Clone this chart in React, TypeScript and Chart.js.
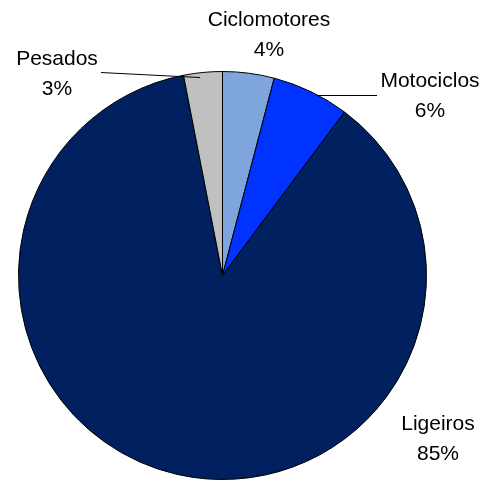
import React, { useEffect, useRef } from "react";
import { Chart, registerables } from "chart.js";

Chart.register(...registerables);

const categories = ["Ciclomotores", "Motociclos", "Ligeiros", "Pesados"];
const values = [4, 6, 85, 3];
const percentLabels = ["4%", "6%", "85%", "3%"];
const sliceColors = ["#7FA6DC", "#0033FF", "#002060", "#C0C0C0"];

// label placement relative to each slice's outer mid-point (layout only)
const labelOffsets: [number, number][] = [
  [20.4, -46.7],
  [119, -5.2],
  [260.9, -43.9],
  [-145.9, -7.9],
];
// leader lines relative to slice outer mid-point (null = none)
const leaderLines: ([number, number, number, number] | null)[] = [
  null,
  [6, 3.8, 66, 3.8],
  null,
  [-101.9, 0.1, -2.9, 5.1],
];

const labelPlugin = {
  id: "outerLabels",
  afterDraw(chart: any) {
    const ctx = chart.ctx;
    const meta = chart.getDatasetMeta(0);
    ctx.save();
    ctx.font = '21px "Liberation Sans", Arial, sans-serif';
    ctx.fillStyle = "#000";
    ctx.textAlign = "center";
    ctx.textBaseline = "alphabetic";
    meta.data.forEach((arc: any, i: number) => {
      const { x, y, startAngle, endAngle, outerRadius } = arc.getProps(
        ["x", "y", "startAngle", "endAngle", "outerRadius"],
        true
      );
      const mid = (startAngle + endAngle) / 2;
      const ax = x + Math.cos(mid) * outerRadius;
      const ay = y + Math.sin(mid) * outerRadius;
      const [ox, oy] = labelOffsets[i];
      ctx.fillText(categories[i], ax + ox, ay + oy);
      ctx.fillText(percentLabels[i], ax + ox, ay + oy + 30);
      const l = leaderLines[i];
      if (l) {
        ctx.beginPath();
        ctx.strokeStyle = "#000";
        ctx.lineWidth = 1;
        ctx.moveTo(ax + l[0], ay + l[1]);
        ctx.lineTo(ax + l[2], ay + l[3]);
        ctx.stroke();
      }
    });
    ctx.restore();
  },
};

export default function App() {
  const ref = useRef<HTMLCanvasElement | null>(null);
  useEffect(() => {
    if (!ref.current) return;
    const chart = new Chart(ref.current, {
      type: "pie",
      data: {
        labels: categories,
        datasets: [
          {
            data: values,
            backgroundColor: sliceColors,
            borderColor: "#000",
            borderWidth: 1,
          },
        ],
      },
      options: {
        responsive: false,
        animation: false,
        layout: { padding: { left: 17.5, right: 62.5, top: 71, bottom: 0 } },
        plugins: {
          legend: { display: false },
          tooltip: { enabled: false },
        },
      },
      plugins: [labelPlugin],
    });
    return () => chart.destroy();
  }, []);
  return (
    <div style={{ position: "absolute", left: 0, top: 0, width: 490, height: 480, background: "#fff" }}>
      <canvas ref={ref} width={490} height={480} />
    </div>
  );
}
